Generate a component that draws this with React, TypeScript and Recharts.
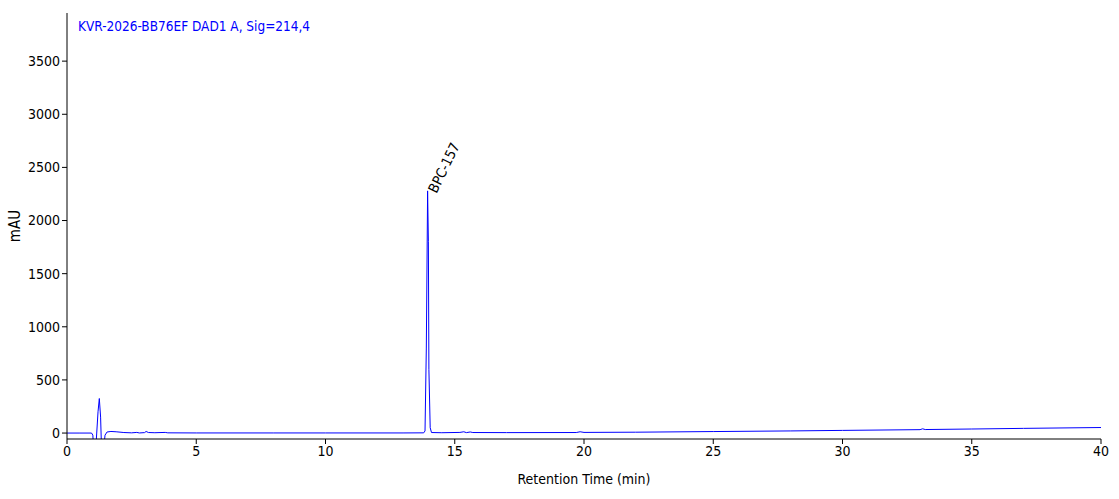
import { LineChart, Line, XAxis, YAxis, ReferenceDot, Label } from "recharts";

// retention time (min) and detector signal (mAU)
const times = [
  0, 0.5, 0.95, 1.0, 1.04, 1.1, 1.15, 1.2, 1.25, 1.3, 1.33, 1.37, 1.42, 1.47,
  1.55, 1.7, 1.9, 2.2, 2.5, 2.7, 2.8, 3.0, 3.06, 3.15, 3.4, 3.8, 3.9, 5, 8, 10,
  13, 13.8, 13.85, 13.9, 13.95, 13.98, 14.0, 14.05, 14.1, 14.5, 15.2, 15.35,
  15.45, 15.6, 15.7, 17, 19.7, 19.85, 20.0, 22, 25, 28, 30, 33, 33.1, 33.2, 35,
  37, 40,
];
const signal = [
  0, 0, 0, -20, -200, -200, 0, 200, 325, 150, -100, -200, -150, -20,
  10, 15, 12, 5, 2, 6, 1, 4, 15, 5, 3, 6, 2, 1, 1, 1,
  1, 2, 20, 800, 2279, 1800, 600, 50, 5, 3, 6, 12,
  4, 10, 5, 4, 5, 12, 6, 8, 14, 20, 25, 32, 40, 33, 38,
  44, 52,
];
const xTicks = [0, 5, 10, 15, 20, 25, 30, 35, 40];
const yTicks = [0, 500, 1000, 1500, 2000, 2500, 3000, 3500];

const peakName = "BPC-157";
const peakTime = 13.95;
const peakHeight = 2279;
const title = "KVR-2026-BB76EF DAD1 A, Sig=214,4";

const data = times.map((t, i) => ({ t, v: signal[i] }));

const font = "'DejaVu Sans Condensed', 'DejaVu Sans', sans-serif";
const tick = { fontSize: 14, fill: "#000", fontFamily: font };

function PeakLabel(props: any) {
  const { viewBox } = props;
  const x = viewBox.x + viewBox.width / 2 + 9;
  const y = viewBox.y + viewBox.height / 2 + 3;
  return (
    <text
      x={x}
      y={y}
      transform={`rotate(-64 ${x} ${y})`}
      fontSize={14}
      fontFamily={font}
      fill="#000"
    >
      {peakName}
    </text>
  );
}

export default function App() {
  return (
    <div style={{ position: "absolute", left: 0, top: 0, width: 1119, height: 499, background: "#fff" }}>
      <LineChart
        width={1119}
        height={499}
        data={data}
        margin={{ top: 13, right: 18, bottom: 30, left: 7 }}
      >
        <XAxis
          dataKey="t"
          type="number"
          domain={[0, 40]}
          ticks={xTicks}
          tick={tick}
          tickSize={5}
          stroke="#000"
          height={30}
          allowDataOverflow
        >
          <Label
            value="Retention Time (min)"
            position="bottom"
            offset={5}
            style={{ fontSize: 14, fontFamily: font, fill: "#000" }}
          />
        </XAxis>
        <XAxis xAxisId="top" orientation="top" type="number" domain={[0, 40]} tick={false} tickLine={false} stroke="#000" height={0} />
        <YAxis
          type="number"
          domain={[-56, 3953]}
          ticks={yTicks}
          tick={tick}
          tickSize={5}
          stroke="#000"
          width={60}
          allowDataOverflow
        >
          <Label
            value="mAU"
            angle={-90}
            position="insideLeft"
            offset={8}
            style={{ fontSize: 15, fontFamily: font, fill: "#000", textAnchor: "middle" }}
          />
        </YAxis>
        <YAxis yAxisId="right" orientation="right" tick={false} tickLine={false} stroke="#000" width={0} />
        <Line
          type="linear"
          dataKey="v"
          stroke="#0000ff"
          strokeWidth={1}
          dot={false}
          isAnimationActive={false}
        />
        <ReferenceDot
          x={peakTime}
          y={peakHeight}
          r={0}
          fill="none"
          stroke="none"
          label={<PeakLabel />}
        />
      </LineChart>
      <div
        style={{
          position: "absolute",
          left: 78,
          top: 18,
          fontSize: 13.5,
          fontFamily: font,
          color: "#0000ff",
        }}
      >
        {title}
      </div>
    </div>
  );
}
